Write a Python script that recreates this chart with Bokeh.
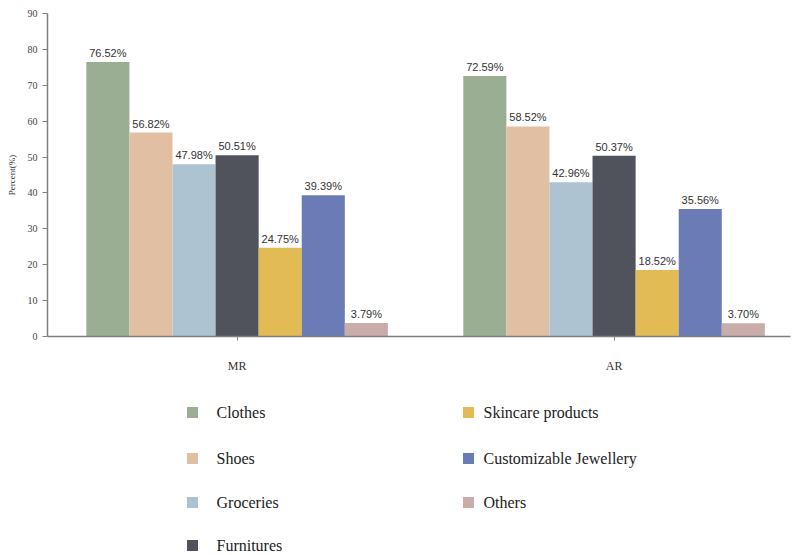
from bokeh.plotting import figure
from bokeh.layouts import column
from bokeh.models import ColumnDataSource, FixedTicker, Range1d
from bokeh.transform import dodge
from bokeh.core.properties import value
from bokeh.embed import file_html
from bokeh.resources import INLINE

groups = ["MR", "AR"]
categories = ["Clothes", "Shoes", "Groceries", "Furnitures", "Skincare products",
              "Customizable Jewellery", "Others"]
mr_values = [76.52, 56.82, 47.98, 50.51, 24.75, 39.39, 3.79]
ar_values = [72.59, 58.52, 42.96, 50.37, 18.52, 35.56, 3.70]
colors = ["#9aae93", "#e0bfa3", "#aec3d2", "#50535b", "#e2bb55", "#6a7bb6", "#c9adab"]
y_ticks = list(range(0, 100, 10))

p = figure(width=792, height=380, output_backend="svg", toolbar_location=None,
           x_range=Range1d(-0.503, 1.468), y_range=Range1d(0, 90),
           min_border_left=47, min_border_top=13, min_border_right=2, min_border_bottom=44)
p.xgrid.visible = False
p.ygrid.visible = False
p.outline_line_color = None

n = len(categories)
group_w = 0.8
bar_w = group_w / n
gx = list(range(len(groups)))

for i, cat in enumerate(categories):
    vals = [mr_values[i], ar_values[i]]
    src = ColumnDataSource(dict(x=gx, y=vals, lbl=["%.2f%%" % v for v in vals]))
    off = (i - (n - 1) / 2) * bar_w
    p.vbar(x=dodge("x", off), top="y", width=bar_w, source=src,
           fill_color=colors[i], line_color=None)
    p.text(x=dodge("x", off), y="y", text="lbl", source=src, y_offset=-3,
           text_align="center", text_baseline="bottom", text_font_size="11px",
           text_color="#333333", text_font=value("Liberation Sans"))

# axes
p.xaxis.ticker = FixedTicker(ticks=gx)
p.xaxis.major_label_overrides = {i: g for i, g in enumerate(groups)}
p.xaxis.minor_tick_line_color = None
p.xaxis.major_tick_out = 4
p.xaxis.major_tick_in = 0
p.xaxis.major_label_standoff = 18
p.xaxis.major_label_text_font = "Liberation Serif"
p.xaxis.major_label_text_font_size = "12px"
p.xaxis.major_label_text_color = "#333333"
p.xaxis.axis_line_color = "#808080"
p.xaxis.axis_line_width = 1.5
p.xaxis.major_tick_line_color = "#808080"

p.yaxis.ticker = FixedTicker(ticks=y_ticks)
p.yaxis.minor_tick_line_color = None
p.yaxis.major_tick_out = 5
p.yaxis.major_tick_in = 0
p.yaxis.major_label_standoff = 5
p.yaxis.major_label_text_font = "Liberation Serif"
p.yaxis.major_label_text_font_size = "10px"
p.yaxis.major_label_text_color = "#444444"
p.yaxis.axis_line_color = "#808080"
p.yaxis.axis_line_width = 1.5
p.yaxis.major_tick_line_color = "#808080"
p.yaxis.axis_label = "Percent(%)"
p.yaxis.axis_label_text_font = "Liberation Serif"
p.yaxis.axis_label_text_font_size = "9px"
p.yaxis.axis_label_text_font_style = "normal"
p.yaxis.axis_label_text_color = "#333333"
p.yaxis.axis_label_standoff = 8

# legend panel (two columns, four rows, filled column by column)
rows_per_col = 4
col_glyph_x = [192, 468]
col_text_x = [216, 483]
row_y = [32, 78, 122, 165]
leg_src = ColumnDataSource(dict(
    gx=[col_glyph_x[i // rows_per_col] for i in range(n)],
    tx=[col_text_x[i // rows_per_col] for i in range(n)],
    y=[row_y[i % rows_per_col] for i in range(n)],
    color=colors, label=categories))

# legend figure uses page-pixel coordinates, frame aligned with the chart frame
lg = figure(width=792, height=175, output_backend="svg", toolbar_location=None,
            x_range=Range1d(47, 790), y_range=Range1d(175, 0),
            x_axis_type=None, y_axis_type=None,
            min_border_left=47, min_border_right=2, min_border_top=0, min_border_bottom=0)
lg.xgrid.visible = False
lg.ygrid.visible = False
lg.outline_line_color = None
lg.scatter(x="gx", y="y", marker="square", size=11, fill_color="color",
           line_color=None, source=leg_src)
lg.text(x="tx", y="y", text="label", source=leg_src, text_align="left",
        text_baseline="middle", text_font=value("Liberation Serif"),
        text_font_size="16px", text_color="#222222")

layout = column(p, lg, spacing=0)
open("out.html", "w").write(file_html(layout, INLINE))
